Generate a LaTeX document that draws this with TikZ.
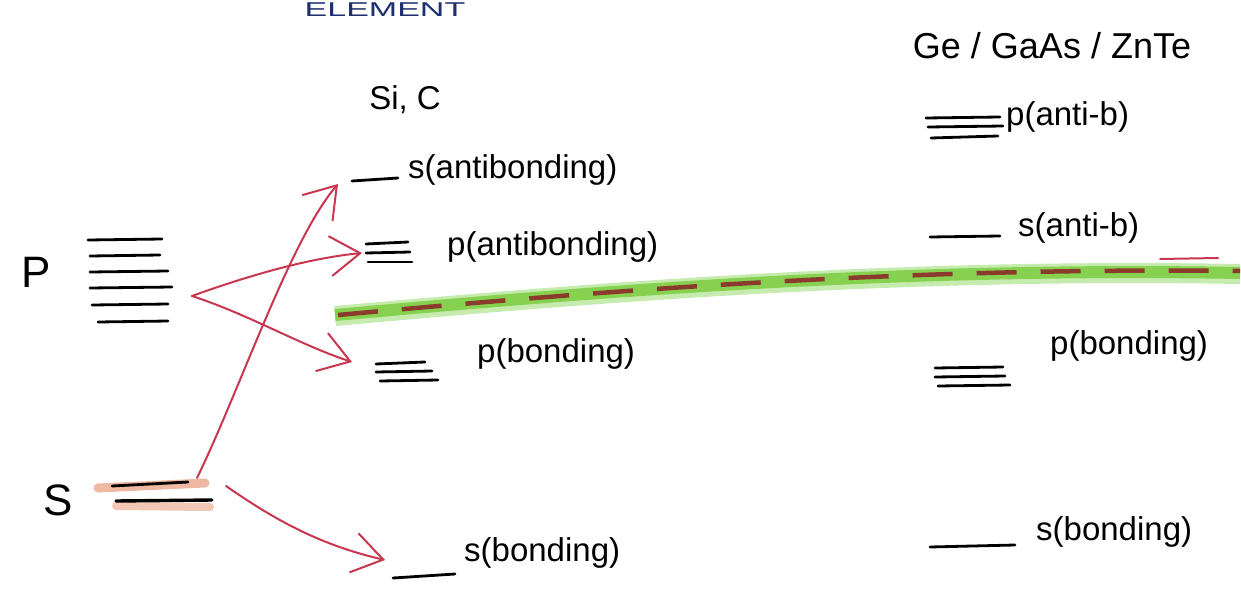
\documentclass[tikz,border=0pt]{standalone}
\usepackage{fontspec}
\setmainfont{Liberation Sans}
\usetikzlibrary{arrows.meta}
\definecolor{inkred}{HTML}{C8364F}
\definecolor{navyink}{HTML}{1F2F6E}
\definecolor{grn}{HTML}{86D150}
\definecolor{grnlight}{HTML}{C6EBAE}
\definecolor{brn}{HTML}{8A3B2C}
\definecolor{salmon}{HTML}{E8A083}
\begin{document}
\begin{tikzpicture}[x=1pt,y=-1pt,
  lbl/.style={anchor=west,inner sep=0pt,font=\fontsize{33}{38}\selectfont},
  big/.style={inner sep=0pt,font=\fontsize{44}{50}\selectfont},
  lev/.style={draw=black,line width=2.8pt,line cap=round},
  redarrow/.style={draw=inkred,line width=2pt,line cap=round,
    -{Straight Barb[length=30pt,width=40pt,line width=2pt]}}]
\useasboundingbox (0,0) rectangle (1241,602);
\clip (0,0) rectangle (1241,602);

% title (top edge)
\node[anchor=base,inner sep=0pt,text=navyink,xscale=1.7,font=\fontsize{20}{24}\selectfont] (title) at (385,17) {ELEMENT};

% left atomic levels
\node[big] (P) at (36,272) {P};
\node[big] (S) at (58,500) {S};
\foreach \y/\a/\b in {240/88/162,256/90/160,272/90/168,288/90/172,305/92/168,322/98/168}
  \draw[lev] (\a,\y) -- (\b,\y-1);
\draw[salmon,line width=9pt,line cap=round,opacity=0.75] (98,488) -- (205,483);
\draw[salmon,line width=8pt,line cap=round,opacity=0.6] (116,506) -- (210,507);
\draw[lev] (112,486) -- (188,482);
\draw[lev,line width=3.4pt] (116,501) -- (212,500);
\coordinate (Pout) at (192,296);
\coordinate (Sout1) at (197,478);
\coordinate (Sout2) at (226,486);

% Si, C column
\node[lbl,anchor=center] (sic) at (405,100) {Si, C};
\draw[lev] (352,181) -- (398,178);
\coordinate (sab) at (338,184);
\node[lbl] (tsab) at (408,170) {s(antibonding)};
\draw[lev] (366,244) -- (408,242);
\draw[lev] (366,253) -- (410,252);
\draw[lev] (368,262) -- (412,262);
\coordinate (pab) at (362,253);
\node[lbl] (tpab) at (447,247) {p(antibonding)};
\draw[lev] (376,364) -- (425,362);
\draw[lev] (376,372) -- (432,371);
\draw[lev] (380,381) -- (438,380);
\coordinate (pb) at (352,362);
\node[lbl] (tpb) at (477,354) {p(bonding)};
\draw[lev] (393,578) -- (455,574);
\coordinate (sb) at (385,560);
\node[lbl] (tsb) at (464,553) {s(bonding)};

% arrows
\draw[redarrow] (Sout1) .. controls (240,390) and (290,240) .. (sab);
\draw[redarrow] (Pout) .. controls (250,275) and (310,258) .. (pab);
\draw[redarrow] (Pout) .. controls (250,315) and (300,345) .. (pb);
\draw[redarrow] (Sout2) .. controls (275,520) and (320,545) .. (sb);

% band
\draw[grnlight,line width=20pt] (335,316) .. controls (600,292) and (900,268) .. (1240,274);
\draw[grn,line width=12pt] (335,315) .. controls (600,291) and (900,267) .. (1240,273);
\draw[brn,line width=4.5pt,dash pattern=on 40pt off 24pt] (338,315) .. controls (600,291) and (900,267) .. (1240,271);
\draw[inkred,line width=2pt,line cap=round] (1160,259) -- (1218,258);

% Ge / GaAs / ZnTe column
\node[lbl,anchor=center,font=\fontsize{36}{42}\selectfont] (ge) at (1052,46) {Ge / GaAs / ZnTe};
\draw[lev] (926,118) -- (1000,117);
\draw[lev] (928,127) -- (1003,126);
\draw[lev] (931,138) -- (998,136);
\node[lbl] (tpabr) at (1006,117) {p(anti-b)};
\draw[lev] (930,237) -- (1000,236);
\node[lbl] (tsabr) at (1018,228) {s(anti-b)};
\draw[lev] (935,368) -- (1003,367);
\draw[lev] (935,377) -- (1005,376);
\draw[lev] (938,386) -- (1010,385);
\node[lbl] (tpbr) at (1050,346) {p(bonding)};
\draw[lev] (930,547) -- (1015,545);
\node[lbl] (tsbr) at (1036,532) {s(bonding)};
\end{tikzpicture}
\end{document}
